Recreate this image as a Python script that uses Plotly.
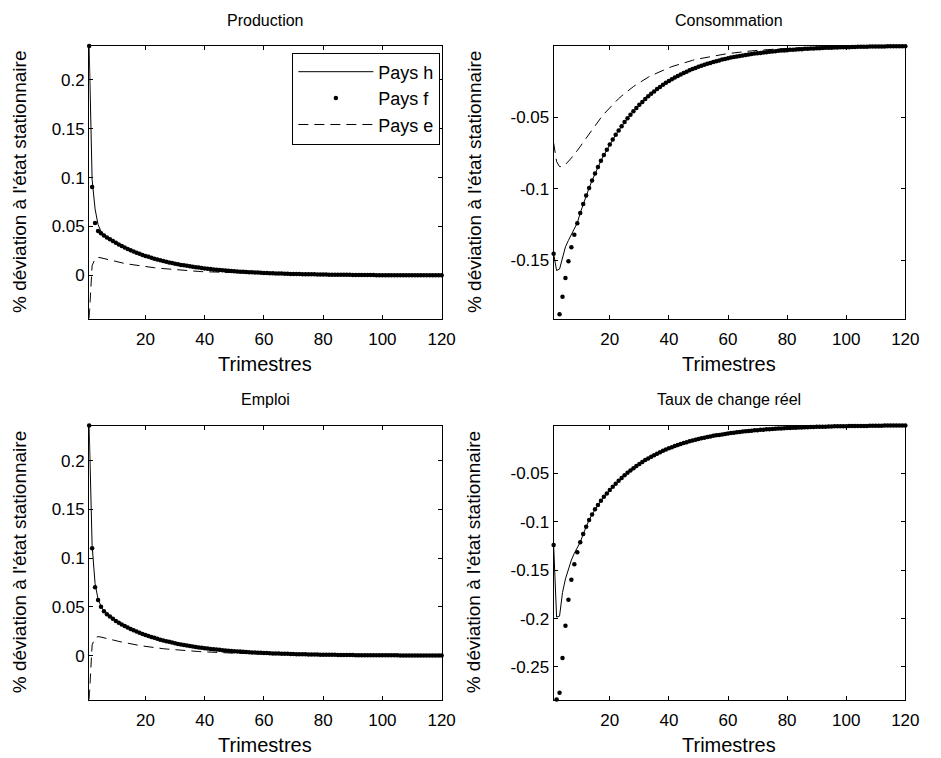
import plotly.graph_objects as go

# Quarters after the shock
t = list(range(1, 121))

# ---- Production (% deviation from steady state) ----
prod_h = [
    0.2345, 0.0980, 0.0680, 0.0520, 0.0450, 0.0412, 0.0390, 0.0369, 0.0351, 0.0333,
    0.0316, 0.0301, 0.0286, 0.0271, 0.0258, 0.0245, 0.0233, 0.0221, 0.0210, 0.0200,
    0.0190, 0.0180, 0.0171, 0.0163, 0.0155, 0.0147, 0.0140, 0.0133, 0.0126, 0.0120,
    0.0114, 0.0108, 0.0103, 0.0098, 0.0093, 0.0088, 0.0084, 0.0080, 0.0076, 0.0072,
    0.0068, 0.0065, 0.0062, 0.0059, 0.0056, 0.0053, 0.0050, 0.0048, 0.0045, 0.0043,
    0.0041, 0.0039, 0.0037, 0.0035, 0.0033, 0.0032, 0.0030, 0.0029, 0.0027, 0.0026,
    0.0025, 0.0023, 0.0022, 0.0021, 0.0020, 0.0019, 0.0018, 0.0017, 0.0016, 0.0015,
    0.0015, 0.0014, 0.0013, 0.0012, 0.0012, 0.0011, 0.0011, 0.0010, 0.0010, 0.0009,
    0.0009, 0.0008, 0.0008, 0.0007, 0.0007, 0.0007, 0.0006, 0.0006, 0.0006, 0.0005,
    0.0005, 0.0005, 0.0005, 0.0004, 0.0004, 0.0004, 0.0004, 0.0003, 0.0003, 0.0003,
    0.0003, 0.0003, 0.0003, 0.0003, 0.0002, 0.0002, 0.0002, 0.0002, 0.0002, 0.0002,
    0.0002, 0.0002, 0.0002, 0.0001, 0.0001, 0.0001, 0.0001, 0.0001, 0.0001, 0.0001,
]
prod_f = [
    0.2345, 0.0903, 0.0535, 0.0453, 0.0430, 0.0409, 0.0388, 0.0369, 0.0351, 0.0333,
    0.0316, 0.0301, 0.0286, 0.0271, 0.0258, 0.0245, 0.0233, 0.0221, 0.0210, 0.0200,
    0.0190, 0.0180, 0.0171, 0.0163, 0.0155, 0.0147, 0.0140, 0.0133, 0.0126, 0.0120,
    0.0114, 0.0108, 0.0103, 0.0098, 0.0093, 0.0088, 0.0084, 0.0080, 0.0076, 0.0072,
    0.0068, 0.0065, 0.0062, 0.0059, 0.0056, 0.0053, 0.0050, 0.0048, 0.0045, 0.0043,
    0.0041, 0.0039, 0.0037, 0.0035, 0.0033, 0.0032, 0.0030, 0.0029, 0.0027, 0.0026,
    0.0025, 0.0023, 0.0022, 0.0021, 0.0020, 0.0019, 0.0018, 0.0017, 0.0016, 0.0015,
    0.0015, 0.0014, 0.0013, 0.0012, 0.0012, 0.0011, 0.0011, 0.0010, 0.0010, 0.0009,
    0.0009, 0.0008, 0.0008, 0.0007, 0.0007, 0.0007, 0.0006, 0.0006, 0.0006, 0.0005,
    0.0005, 0.0005, 0.0005, 0.0004, 0.0004, 0.0004, 0.0004, 0.0003, 0.0003, 0.0003,
    0.0003, 0.0003, 0.0003, 0.0003, 0.0002, 0.0002, 0.0002, 0.0002, 0.0002, 0.0002,
    0.0002, 0.0002, 0.0002, 0.0001, 0.0001, 0.0001, 0.0001, 0.0001, 0.0001, 0.0001,
]
prod_e = [
    -0.0440, 0.0100, 0.0170, 0.0185, 0.0180, 0.0172, 0.0164, 0.0155, 0.0148, 0.0140,
    0.0134, 0.0128, 0.0122, 0.0117, 0.0112, 0.0107, 0.0102, 0.0098, 0.0094, 0.0090,
    0.0086, 0.0082, 0.0079, 0.0075, 0.0072, 0.0069, 0.0066, 0.0063, 0.0060, 0.0058,
    0.0055, 0.0053, 0.0051, 0.0049, 0.0047, 0.0045, 0.0043, 0.0041, 0.0039, 0.0038,
    0.0036, 0.0035, 0.0033, 0.0032, 0.0031, 0.0029, 0.0028, 0.0027, 0.0026, 0.0025,
    0.0024, 0.0023, 0.0022, 0.0021, 0.0020, 0.0019, 0.0018, 0.0018, 0.0017, 0.0016,
    0.0016, 0.0015, 0.0014, 0.0014, 0.0013, 0.0013, 0.0012, 0.0012, 0.0011, 0.0011,
    0.0010, 0.0010, 0.0010, 0.0009, 0.0009, 0.0009, 0.0008, 0.0008, 0.0008, 0.0007,
    0.0007, 0.0007, 0.0007, 0.0006, 0.0006, 0.0006, 0.0006, 0.0005, 0.0005, 0.0005,
    0.0005, 0.0005, 0.0004, 0.0004, 0.0004, 0.0004, 0.0004, 0.0004, 0.0003, 0.0003,
    0.0003, 0.0003, 0.0003, 0.0003, 0.0003, 0.0003, 0.0002, 0.0002, 0.0002, 0.0002,
    0.0002, 0.0002, 0.0002, 0.0002, 0.0002, 0.0002, 0.0001, 0.0001, 0.0001, 0.0001,
]

# ---- Consommation ----
cons_h = [
    -0.1453, -0.1570, -0.1560, -0.1475, -0.1405, -0.1360, -0.1320, -0.1280, -0.1238, -0.1168,
    -0.1105, -0.1047, -0.0994, -0.0942, -0.0893, -0.0847, -0.0804, -0.0764, -0.0727, -0.0691,
    -0.0656, -0.0623, -0.0592, -0.0563, -0.0534, -0.0508, -0.0482, -0.0458, -0.0435, -0.0413,
    -0.0393, -0.0373, -0.0354, -0.0337, -0.0320, -0.0304, -0.0289, -0.0274, -0.0260, -0.0247,
    -0.0235, -0.0223, -0.0212, -0.0202, -0.0191, -0.0182, -0.0173, -0.0164, -0.0156, -0.0148,
    -0.0141, -0.0134, -0.0127, -0.0121, -0.0115, -0.0109, -0.0104, -0.0098, -0.0093, -0.0089,
    -0.0084, -0.0080, -0.0076, -0.0072, -0.0069, -0.0065, -0.0062, -0.0059, -0.0056, -0.0053,
    -0.0051, -0.0048, -0.0046, -0.0043, -0.0041, -0.0039, -0.0037, -0.0035, -0.0034, -0.0032,
    -0.0030, -0.0029, -0.0027, -0.0026, -0.0025, -0.0023, -0.0022, -0.0021, -0.0020, -0.0019,
    -0.0018, -0.0017, -0.0016, -0.0015, -0.0015, -0.0014, -0.0013, -0.0012, -0.0012, -0.0011,
    -0.0011, -0.0010, -0.0010, -0.0009, -0.0009, -0.0008, -0.0008, -0.0007, -0.0007, -0.0007,
    -0.0006, -0.0006, -0.0006, -0.0005, -0.0005, -0.0005, -0.0004, -0.0004, -0.0004, -0.0004,
]
cons_f = [
    -0.1453, -0.1910, -0.1876, -0.1753, -0.1623, -0.1505, -0.1407, -0.1321, -0.1240, -0.1168,
    -0.1105, -0.1047, -0.0994, -0.0942, -0.0893, -0.0847, -0.0804, -0.0764, -0.0727, -0.0691,
    -0.0656, -0.0623, -0.0592, -0.0563, -0.0534, -0.0508, -0.0482, -0.0458, -0.0435, -0.0413,
    -0.0393, -0.0373, -0.0354, -0.0337, -0.0320, -0.0304, -0.0289, -0.0274, -0.0260, -0.0247,
    -0.0235, -0.0223, -0.0212, -0.0202, -0.0191, -0.0182, -0.0173, -0.0164, -0.0156, -0.0148,
    -0.0141, -0.0134, -0.0127, -0.0121, -0.0115, -0.0109, -0.0104, -0.0098, -0.0093, -0.0089,
    -0.0084, -0.0080, -0.0076, -0.0072, -0.0069, -0.0065, -0.0062, -0.0059, -0.0056, -0.0053,
    -0.0051, -0.0048, -0.0046, -0.0043, -0.0041, -0.0039, -0.0037, -0.0035, -0.0034, -0.0032,
    -0.0030, -0.0029, -0.0027, -0.0026, -0.0025, -0.0023, -0.0022, -0.0021, -0.0020, -0.0019,
    -0.0018, -0.0017, -0.0016, -0.0015, -0.0015, -0.0014, -0.0013, -0.0012, -0.0012, -0.0011,
    -0.0011, -0.0010, -0.0010, -0.0009, -0.0009, -0.0008, -0.0008, -0.0007, -0.0007, -0.0007,
    -0.0006, -0.0006, -0.0006, -0.0005, -0.0005, -0.0005, -0.0004, -0.0004, -0.0004, -0.0004,
]
cons_e = [
    -0.0680, -0.0810, -0.0845, -0.0845, -0.0830, -0.0810, -0.0785, -0.0760, -0.0735, -0.0705,
    -0.0675, -0.0645, -0.0615, -0.0585, -0.0557, -0.0530, -0.0504, -0.0478, -0.0455, -0.0432,
    -0.0410, -0.0390, -0.0370, -0.0352, -0.0334, -0.0317, -0.0301, -0.0286, -0.0272, -0.0258,
    -0.0245, -0.0233, -0.0221, -0.0210, -0.0200, -0.0190, -0.0180, -0.0171, -0.0163, -0.0155,
    -0.0147, -0.0140, -0.0133, -0.0126, -0.0120, -0.0114, -0.0108, -0.0103, -0.0097, -0.0093,
    -0.0088, -0.0084, -0.0079, -0.0075, -0.0072, -0.0068, -0.0065, -0.0062, -0.0059, -0.0056,
    -0.0053, -0.0050, -0.0048, -0.0045, -0.0043, -0.0041, -0.0039, -0.0037, -0.0035, -0.0033,
    -0.0032, -0.0030, -0.0029, -0.0027, -0.0026, -0.0025, -0.0023, -0.0022, -0.0021, -0.0020,
    -0.0019, -0.0018, -0.0017, -0.0016, -0.0015, -0.0015, -0.0014, -0.0013, -0.0013, -0.0012,
    -0.0011, -0.0011, -0.0010, -0.0010, -0.0009, -0.0009, -0.0008, -0.0008, -0.0007, -0.0007,
    -0.0007, -0.0006, -0.0006, -0.0006, -0.0005, -0.0005, -0.0005, -0.0005, -0.0004, -0.0004,
    -0.0004, -0.0004, -0.0004, -0.0003, -0.0003, -0.0003, -0.0003, -0.0003, -0.0003, -0.0002,
]

# ---- Emploi ----
emp_h = [
    0.2360, 0.1130, 0.0740, 0.0580, 0.0505, 0.0456, 0.0425, 0.0400, 0.0377, 0.0356,
    0.0337, 0.0320, 0.0303, 0.0288, 0.0274, 0.0260, 0.0247, 0.0235, 0.0223, 0.0212,
    0.0201, 0.0191, 0.0182, 0.0172, 0.0164, 0.0156, 0.0148, 0.0141, 0.0134, 0.0127,
    0.0120, 0.0114, 0.0109, 0.0103, 0.0098, 0.0093, 0.0089, 0.0084, 0.0080, 0.0076,
    0.0072, 0.0069, 0.0065, 0.0062, 0.0059, 0.0056, 0.0053, 0.0050, 0.0048, 0.0046,
    0.0043, 0.0041, 0.0039, 0.0037, 0.0035, 0.0033, 0.0032, 0.0030, 0.0029, 0.0027,
    0.0026, 0.0025, 0.0023, 0.0022, 0.0021, 0.0020, 0.0019, 0.0018, 0.0017, 0.0016,
    0.0015, 0.0015, 0.0014, 0.0013, 0.0012, 0.0012, 0.0011, 0.0011, 0.0010, 0.0010,
    0.0009, 0.0009, 0.0008, 0.0008, 0.0007, 0.0007, 0.0007, 0.0006, 0.0006, 0.0006,
    0.0005, 0.0005, 0.0005, 0.0005, 0.0004, 0.0004, 0.0004, 0.0004, 0.0003, 0.0003,
    0.0003, 0.0003, 0.0003, 0.0003, 0.0003, 0.0002, 0.0002, 0.0002, 0.0002, 0.0002,
    0.0002, 0.0002, 0.0002, 0.0002, 0.0001, 0.0001, 0.0001, 0.0001, 0.0001, 0.0001,
]
emp_f = [
    0.2360, 0.1100, 0.0700, 0.0570, 0.0500, 0.0454, 0.0425, 0.0400, 0.0377, 0.0356,
    0.0337, 0.0320, 0.0303, 0.0288, 0.0274, 0.0260, 0.0247, 0.0235, 0.0223, 0.0212,
    0.0201, 0.0191, 0.0182, 0.0172, 0.0164, 0.0156, 0.0148, 0.0141, 0.0134, 0.0127,
    0.0120, 0.0114, 0.0109, 0.0103, 0.0098, 0.0093, 0.0089, 0.0084, 0.0080, 0.0076,
    0.0072, 0.0069, 0.0065, 0.0062, 0.0059, 0.0056, 0.0053, 0.0050, 0.0048, 0.0046,
    0.0043, 0.0041, 0.0039, 0.0037, 0.0035, 0.0033, 0.0032, 0.0030, 0.0029, 0.0027,
    0.0026, 0.0025, 0.0023, 0.0022, 0.0021, 0.0020, 0.0019, 0.0018, 0.0017, 0.0016,
    0.0015, 0.0015, 0.0014, 0.0013, 0.0012, 0.0012, 0.0011, 0.0011, 0.0010, 0.0010,
    0.0009, 0.0009, 0.0008, 0.0008, 0.0007, 0.0007, 0.0007, 0.0006, 0.0006, 0.0006,
    0.0005, 0.0005, 0.0005, 0.0005, 0.0004, 0.0004, 0.0004, 0.0004, 0.0003, 0.0003,
    0.0003, 0.0003, 0.0003, 0.0003, 0.0003, 0.0002, 0.0002, 0.0002, 0.0002, 0.0002,
    0.0002, 0.0002, 0.0002, 0.0002, 0.0001, 0.0001, 0.0001, 0.0001, 0.0001, 0.0001,
]
emp_e = [
    -0.0450, 0.0110, 0.0180, 0.0195, 0.0190, 0.0184, 0.0176, 0.0168, 0.0160, 0.0153,
    0.0146, 0.0139, 0.0132, 0.0126, 0.0120, 0.0114, 0.0109, 0.0104, 0.0099, 0.0094,
    0.0090, 0.0086, 0.0082, 0.0078, 0.0075, 0.0071, 0.0068, 0.0065, 0.0062, 0.0059,
    0.0057, 0.0054, 0.0052, 0.0050, 0.0048, 0.0046, 0.0044, 0.0042, 0.0040, 0.0038,
    0.0037, 0.0035, 0.0034, 0.0032, 0.0031, 0.0030, 0.0029, 0.0027, 0.0026, 0.0025,
    0.0024, 0.0023, 0.0022, 0.0021, 0.0020, 0.0019, 0.0019, 0.0018, 0.0017, 0.0016,
    0.0016, 0.0015, 0.0015, 0.0014, 0.0013, 0.0013, 0.0012, 0.0012, 0.0011, 0.0011,
    0.0010, 0.0010, 0.0010, 0.0009, 0.0009, 0.0009, 0.0008, 0.0008, 0.0008, 0.0007,
    0.0007, 0.0007, 0.0007, 0.0006, 0.0006, 0.0006, 0.0006, 0.0005, 0.0005, 0.0005,
    0.0005, 0.0005, 0.0004, 0.0004, 0.0004, 0.0004, 0.0004, 0.0004, 0.0003, 0.0003,
    0.0003, 0.0003, 0.0003, 0.0003, 0.0003, 0.0003, 0.0002, 0.0002, 0.0002, 0.0002,
    0.0002, 0.0002, 0.0002, 0.0002, 0.0002, 0.0002, 0.0001, 0.0001, 0.0001, 0.0001,
]

# ---- Taux de change réel ----
tcr_h = [
    -0.1239, -0.1985, -0.1975, -0.1730, -0.1590, -0.1480, -0.1395, -0.1325, -0.1262, -0.1211,
    -0.1126, -0.1050, -0.0981, -0.0923, -0.0871, -0.0827, -0.0782, -0.0741, -0.0706, -0.0671,
    -0.0637, -0.0605, -0.0575, -0.0546, -0.0519, -0.0493, -0.0468, -0.0445, -0.0423, -0.0401,
    -0.0381, -0.0362, -0.0344, -0.0327, -0.0311, -0.0295, -0.0280, -0.0266, -0.0253, -0.0240,
    -0.0228, -0.0217, -0.0206, -0.0196, -0.0186, -0.0177, -0.0168, -0.0159, -0.0151, -0.0144,
    -0.0137, -0.0130, -0.0123, -0.0117, -0.0111, -0.0106, -0.0101, -0.0096, -0.0091, -0.0086,
    -0.0082, -0.0078, -0.0074, -0.0070, -0.0067, -0.0063, -0.0060, -0.0057, -0.0054, -0.0052,
    -0.0049, -0.0047, -0.0044, -0.0042, -0.0040, -0.0038, -0.0036, -0.0034, -0.0033, -0.0031,
    -0.0029, -0.0028, -0.0027, -0.0025, -0.0024, -0.0023, -0.0022, -0.0020, -0.0019, -0.0018,
    -0.0018, -0.0017, -0.0016, -0.0015, -0.0014, -0.0013, -0.0013, -0.0012, -0.0011, -0.0011,
    -0.0010, -0.0010, -0.0009, -0.0009, -0.0008, -0.0008, -0.0008, -0.0007, -0.0007, -0.0006,
    -0.0006, -0.0006, -0.0005, -0.0005, -0.0005, -0.0005, -0.0004, -0.0004, -0.0004, -0.0004,
]
tcr_f = [
    -0.1239, -0.2837, -0.2768, -0.2407, -0.2074, -0.1806, -0.1600, -0.1438, -0.1314, -0.1211,
    -0.1126, -0.1050, -0.0981, -0.0923, -0.0871, -0.0827, -0.0782, -0.0741, -0.0706, -0.0671,
    -0.0637, -0.0605, -0.0575, -0.0546, -0.0519, -0.0493, -0.0468, -0.0445, -0.0423, -0.0401,
    -0.0381, -0.0362, -0.0344, -0.0327, -0.0311, -0.0295, -0.0280, -0.0266, -0.0253, -0.0240,
    -0.0228, -0.0217, -0.0206, -0.0196, -0.0186, -0.0177, -0.0168, -0.0159, -0.0151, -0.0144,
    -0.0137, -0.0130, -0.0123, -0.0117, -0.0111, -0.0106, -0.0101, -0.0096, -0.0091, -0.0086,
    -0.0082, -0.0078, -0.0074, -0.0070, -0.0067, -0.0063, -0.0060, -0.0057, -0.0054, -0.0052,
    -0.0049, -0.0047, -0.0044, -0.0042, -0.0040, -0.0038, -0.0036, -0.0034, -0.0033, -0.0031,
    -0.0029, -0.0028, -0.0027, -0.0025, -0.0024, -0.0023, -0.0022, -0.0020, -0.0019, -0.0018,
    -0.0018, -0.0017, -0.0016, -0.0015, -0.0014, -0.0013, -0.0013, -0.0012, -0.0011, -0.0011,
    -0.0010, -0.0010, -0.0009, -0.0009, -0.0008, -0.0008, -0.0008, -0.0007, -0.0007, -0.0006,
    -0.0006, -0.0006, -0.0005, -0.0005, -0.0005, -0.0005, -0.0004, -0.0004, -0.0004, -0.0004,
]

series_names = ["Pays h", "Pays f", "Pays e"]
x_ticks = [20, 40, 60, 80, 100, 120]

panels = [
    dict(title="Production", h=prod_h, f=prod_f, e=prod_e,
         yrange=[-0.044, 0.2345], yticks=[0, 0.05, 0.1, 0.15, 0.2]),
    dict(title="Consommation", h=cons_h, f=cons_f, e=cons_e,
         yrange=[-0.1905, -0.0003], yticks=[-0.15, -0.1, -0.05]),
    dict(title="Emploi", h=emp_h, f=emp_f, e=emp_e,
         yrange=[-0.045, 0.236], yticks=[0, 0.05, 0.1, 0.15, 0.2]),
    dict(title="Taux de change réel", h=tcr_h, f=tcr_f, e=None,
         yrange=[-0.2837, -0.0004], yticks=[-0.25, -0.2, -0.15, -0.1, -0.05]),
]

W, H = 941, 758
FONT = "Liberation Sans, Arial, sans-serif"

# pixel boxes of the four axes: (left, right, top, bottom)
boxes = [
    (90.5, 448.3, 46.0, 318.5),
    (562.0, 919.0, 46.0, 318.5),
    (90.5, 448.3, 425.5, 699.5),
    (562.0, 919.0, 425.5, 699.5),
]
ylabel_x = [20, 481, 20, 481]

fig = go.Figure()
for i, (p, (l, r, tp, bt)) in enumerate(zip(panels, boxes)):
    k = "" if i == 0 else str(i + 1)
    xa, ya = "x" + k, "y" + k
    first = i == 0
    fig.add_trace(go.Scatter(
        x=t, y=p["h"], mode="lines", name=series_names[0], showlegend=first,
        line=dict(color="black", width=1), xaxis=xa, yaxis=ya))
    fig.add_trace(go.Scatter(
        x=t, y=p["f"], mode="markers", name=series_names[1], showlegend=first,
        marker=dict(color="black", size=4.5), cliponaxis=False, xaxis=xa, yaxis=ya))
    if p["e"] is not None:
        fig.add_trace(go.Scatter(
            x=t, y=p["e"], mode="lines", name=series_names[2], showlegend=first,
            line=dict(color="black", width=1, dash="10px,6px"), xaxis=xa, yaxis=ya))

    axis_common = dict(
        showline=True, linecolor="black", linewidth=1, mirror="ticks",
        ticks="inside", ticklen=4, tickcolor="black", showgrid=False,
        zeroline=False, tickfont=dict(family=FONT, size=17, color="black"),
    )
    fig.layout["xaxis" + k] = dict(
        axis_common, domain=[l / W, r / W], range=[1, 120], anchor=ya,
        tickvals=x_ticks, ticktext=[str(v) for v in x_ticks], ticklabelstandoff=5)
    fig.layout["yaxis" + k] = dict(
        axis_common, domain=[1 - bt / H, 1 - tp / H], range=p["yrange"], anchor=xa,
        tickvals=p["yticks"], ticktext=["%g" % v for v in p["yticks"]], ticklabelstandoff=0)

    cx = (l + r) / 2
    fig.add_annotation(text=p["title"], x=cx / W, y=1 - (tp - 26) / H, xref="paper", yref="paper",
                       showarrow=False, font=dict(family=FONT, size=16, color="black"),
                       xanchor="center", yanchor="middle")
    fig.add_annotation(text="Trimestres", x=cx / W, y=1 - (bt + 45) / H, xref="paper", yref="paper",
                       showarrow=False, font=dict(family=FONT, size=20, color="black"),
                       xanchor="center", yanchor="middle")
    fig.add_annotation(text="% déviation à l'état stationnaire", x=ylabel_x[i] / W,
                       y=1 - ((tp + bt) / 2) / H, xref="paper", yref="paper", textangle=-90,
                       showarrow=False, font=dict(family=FONT, size=19, color="black"),
                       xanchor="center", yanchor="middle")

fig.update_layout(
    width=W, height=H, margin=dict(l=0, r=0, t=0, b=0),
    paper_bgcolor="white", plot_bgcolor="white",
    legend=dict(x=447 / W, y=1 - 52.5 / H, xanchor="right", yanchor="top",
                bgcolor="white", bordercolor="black", borderwidth=1,
                font=dict(family=FONT, size=18, color="black"), itemwidth=75,
                tracegroupgap=0),
)

fig.write_html("out.html")
